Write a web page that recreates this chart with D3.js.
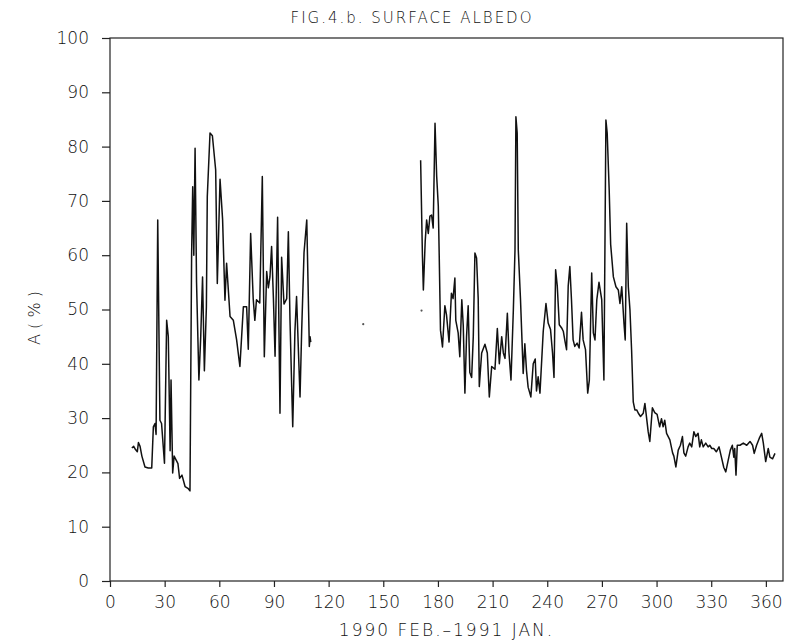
<!DOCTYPE html>
<html>
<head>
<meta charset="utf-8">
<script src="https://cdn.jsdelivr.net/npm/d3@7"></script>
<style>
  body { margin: 0; background: #fff; }
  svg text { font-family: "DejaVu Sans", sans-serif; font-weight: 200; fill: #111; }
  .axis path, .axis line { stroke: #222; stroke-width: 1.2; }
</style>
</head>
<body>
<div id="chart"></div>
<script>
// chart text
var title = "FIG.4.b. SURFACE ALBEDO";
var xTitle = "1990 FEB.\u20131991 JAN.";
var yTitle = "A ( % )";
var xTicks = [0, 30, 60, 90, 120, 150, 180, 210, 240, 270, 300, 330, 360];
var yTicks = [0, 10, 20, 30, 40, 50, 60, 70, 80, 90, 100];

// first observation period (day number, albedo %)
var days1 = [12, 13, 14, 15, 15.6, 16.5, 17.5, 19.2, 21, 22.9, 23.8, 24.7, 25.3, 26.2, 27.4, 28.3,
  29.9, 31.1, 32, 33, 33.5, 34.4, 35.2, 37.3, 38.2, 39.5, 41.2, 43, 43.9, 44.8, 45.4, 46,
  46.7, 47.5, 48.8, 49.8, 50.8, 51.8, 52.9, 53.4, 54.9, 56.2, 58, 58.9, 60.4, 61.8, 63.1, 64,
  65.9, 67.7, 69.5, 71.3, 73.2, 75, 75.9, 77.2, 78.6, 79.5, 80.4, 82.2, 83.6, 84.7, 86, 86.9,
  87.8, 88.7, 89.7, 90.6, 92, 93.3, 94.2, 95.5, 97, 97.9, 98.8, 100.3, 101.5, 102.4, 104.3,
  105.2, 106.5, 108, 109.4, 109.8, 110.2];
var albedo1 = [24.5, 24.8, 24.2, 23.8, 25.5, 24.8, 23, 21, 20.8, 20.8, 28.4, 29, 27, 66.5, 29.6, 29,
  21.7, 48, 45, 24, 37, 19.9, 23, 21.6, 18.9, 19.5, 17.4, 17, 16.6, 60.3, 72.6, 60,
  79.7, 55, 37, 45, 56, 38.7, 50.4, 70.8, 82.5, 82, 75.7, 54.8, 74, 66.6, 51.7, 58.5,
  48.7, 48, 44.4, 39.5, 50.5, 50.5, 42.7, 64, 52, 48, 51.8, 51.2, 74.5, 41.3, 57, 54,
  56, 61.6, 52, 41.4, 67, 30.9, 59.6, 51, 52, 64.3, 48, 28.4, 46, 52.4, 33.9,
  46, 60.5, 66.5, 43.2, 45, 44];

// second observation period
var days2 = [170.5, 171.5, 172, 173, 173.8, 174.7, 175.6, 176.5, 177.4, 178.4, 179.3, 180.2, 180.7,
  181.4, 182.5, 183.8, 184.7, 186.1, 187.4, 188.3, 189.3, 189.8, 191.1, 192, 193.1, 193.9,
  194.8, 195.7, 196.6, 197.5, 198.5, 199.4, 200.3, 201.2, 202.1, 202.7, 204, 205.8, 207.1,
  208.2, 209.5, 211.3, 212.6, 213.7, 215, 215.9, 216.8, 218.1, 219, 220.1, 221.4, 222.3,
  222.8, 223.5, 224.1, 225.3, 226.8, 227.7, 228.6, 229.5, 231, 232.3, 233.4, 234.1, 235,
  236, 237.8, 239.3, 240.5, 241.8, 242.9, 243.7, 244.6, 245.5, 246.6, 247.9, 248.8, 249.7,
  250.6, 251.5, 252.4, 253.3, 254.2, 255.1, 256.4, 257.5, 258.8, 259.7, 261, 262.2, 263.1,
  264.4, 265.3, 266.2, 267.2, 268.4, 269.9, 271.1, 272.2, 272.9, 274, 274.8, 276.3, 277.7,
  279, 279.9, 280.9, 282.1, 282.8, 283.6, 284.5, 285.4, 286.3, 287.2, 288.1, 289.1, 290,
  291.2, 292.7, 293.6, 295.4, 296.3, 297.7, 299, 300.3, 301.7, 302.7, 303.6, 304.5, 305.5,
  306.4, 307.3, 308.8, 309.5, 310.6, 311.9, 313.1, 314.2, 315, 316, 317.3, 318.2, 319.3,
  320.5, 321.5, 322.8, 323.7, 324.6, 325.6, 327, 328.3, 329.2, 330.3, 331.4, 332.8, 334.3,
  335.6, 336.9, 338, 339.3, 340.5, 341.6, 342.4, 342.9, 343.6, 344.3, 345.8, 347.6, 349.5,
  351.3, 352.7, 353.6, 354.9, 356.4, 357.7, 358.6, 359.9, 361.3, 362.2, 363.7, 365];
var albedo2 = [77.5, 59.7, 53.6, 62.5, 66.5, 64, 67.2, 67.4, 65, 84.3, 74.6, 69, 60,
  46.2, 43.1, 50.7, 49, 44, 53, 52, 55.8, 48, 45.7, 41.3, 51.8, 47,
  34.6, 45, 50.7, 38.4, 37.5, 45, 60.4, 59.5, 52, 35.8, 42, 43.6, 42,
  33.9, 39.5, 39, 46.5, 40, 45, 42, 41, 49.3, 42, 37, 50, 61,
  85.5, 82.5, 61, 52, 38.2, 43.7, 38.8, 35.7, 33.9, 40, 40.9, 35, 37.6,
  34.6, 46, 51.1, 47.5, 46.3, 42, 37.5, 57.3, 54.3, 47.2, 46.6, 46, 44.2,
  42.6, 54.3, 57.9, 51.8, 44.4, 43.2, 43.8, 42.9, 49.5, 44.4, 42.6, 34.6, 37,
  56.7, 45.7, 44.4, 51.8, 55, 51.8, 37, 84.9, 82.5, 72, 62, 56, 54.2,
  53.6, 51.1, 54.2, 47.5, 44.4, 65.9, 54.2, 49.9, 42.5, 33, 31.5, 31.5, 30.9,
  30.3, 30.9, 32.7, 27.5, 25.7, 31.9, 31, 30.7, 28.4, 29.9, 28.4, 29.6, 27.2,
  26.6, 26, 23.6, 23, 21, 24.1, 25, 26.6, 23.6, 23, 24.7, 25.4, 24.7,
  27.5, 26.6, 27.2, 24.7, 26, 24.7, 25.4, 24.7, 25, 24.4, 24.4, 23.8, 24.7,
  22.8, 20.9, 20.1, 22.2, 24.1, 25, 22.8, 24.4, 19.5, 25, 25, 25.4, 25,
  25.7, 25, 23.5, 25, 26.3, 27.2, 25.4, 22, 24.4, 22.8, 22.5, 23.5];

// isolated single readings
var dotDays = [139, 171];
var dotAlbedo = [47.3, 49.8];

var W = 789, H = 643;
var plot = { left: 110, right: 783, top: 38, bottom: 581 };

var svg = d3.select("#chart").append("svg")
  .attr("width", W)
  .attr("height", H);

var x = d3.scaleLinear().domain([0, 369.4]).range([plot.left, plot.right]);
var y = d3.scaleLinear().domain([0, 100]).range([plot.bottom, plot.top]);

// frame
svg.append("rect")
  .attr("x", plot.left).attr("y", plot.top)
  .attr("width", plot.right - plot.left).attr("height", plot.bottom - plot.top)
  .attr("fill", "none").attr("stroke", "#222").attr("stroke-width", 1.2);

var xAxis = svg.append("g")
  .attr("class", "axis")
  .attr("transform", "translate(0," + plot.bottom + ")")
  .call(d3.axisBottom(x).tickValues(xTicks).tickSize(6).tickPadding(9).tickSizeOuter(0));
xAxis.select(".domain").remove();
xAxis.selectAll("text").style("font-size", "17px").attr("fill", "#111");

var yAxis = svg.append("g")
  .attr("class", "axis")
  .attr("transform", "translate(" + plot.left + ",0)")
  .call(d3.axisLeft(y).tickValues(yTicks).tickSize(8).tickPadding(13).tickSizeOuter(0));
yAxis.select(".domain").remove();
yAxis.selectAll("text").style("font-size", "17px").attr("fill", "#111");

var line = d3.line()
  .x(function(d) { return x(d[0]); })
  .y(function(d) { return y(d[1]); });

var series = [d3.zip(days1, albedo1), d3.zip(days2, albedo2)];
svg.selectAll(".series")
  .data(series)
  .enter().append("path")
  .attr("class", "series")
  .attr("d", line)
  .attr("fill", "none")
  .attr("stroke", "#111")
  .attr("stroke-width", 1.5)
  .attr("stroke-linejoin", "round");

svg.selectAll(".dot")
  .data(d3.zip(dotDays, dotAlbedo))
  .enter().append("circle")
  .attr("class", "dot")
  .attr("cx", function(d) { return x(d[0]); })
  .attr("cy", function(d) { return y(d[1]); })
  .attr("r", 1.1)
  .attr("fill", "#555");

svg.append("text")
  .attr("x", 412).attr("y", 23)
  .attr("text-anchor", "middle")
  .style("font-size", "15px")
  .style("letter-spacing", "2px")
  .text(title);

svg.append("text")
  .attr("x", (plot.left + plot.right) / 2).attr("y", 636)
  .attr("text-anchor", "middle")
  .style("font-size", "17px")
  .style("letter-spacing", "2px")
  .text(xTitle);

svg.append("text")
  .attr("transform", "translate(40," + 318 + ") rotate(-90)")
  .attr("text-anchor", "middle")
  .style("font-size", "16px")
  .text(yTitle);
</script>
</body>
</html>
